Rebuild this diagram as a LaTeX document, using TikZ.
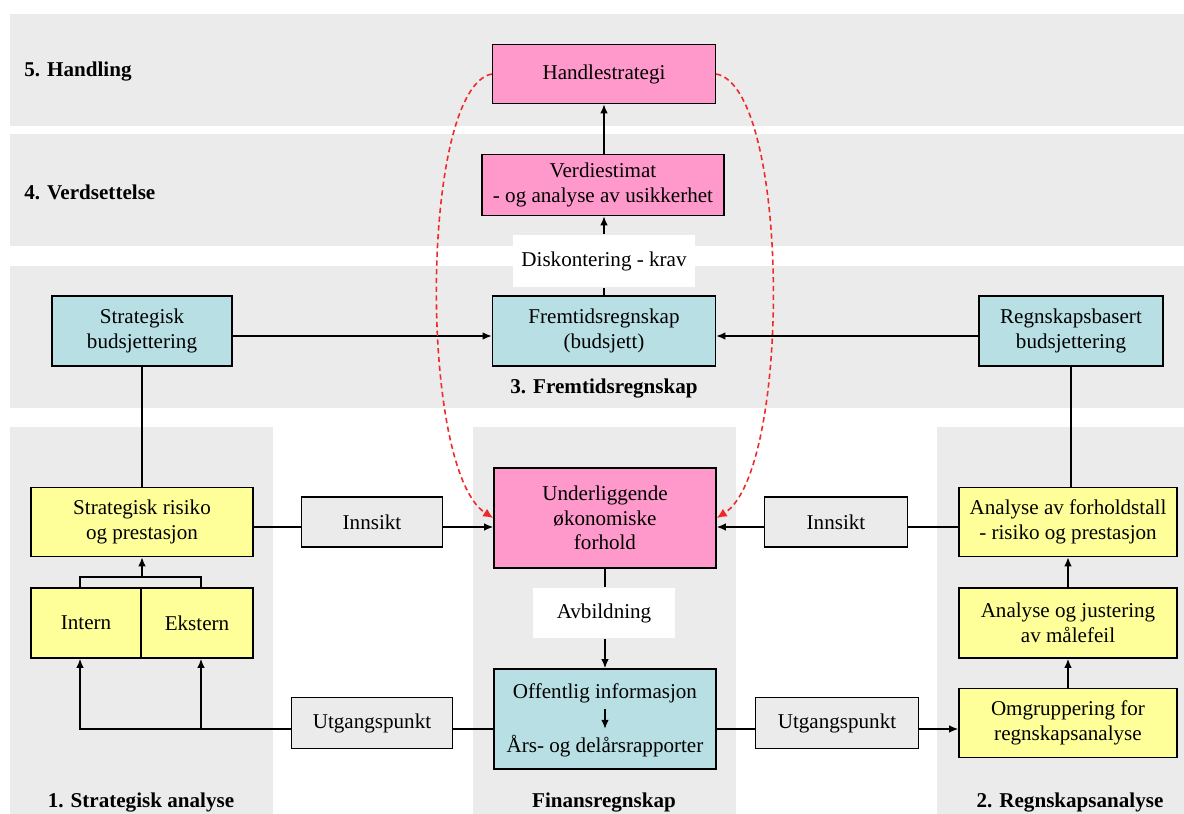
\documentclass[tikz,border=0pt]{standalone}
\usepackage{fontspec}
\setmainfont{Liberation Serif}
\usetikzlibrary{arrows.meta}
\definecolor{bandgray}{RGB}{235,235,235}
\definecolor{boxpink}{RGB}{255,153,204}
\definecolor{boxteal}{RGB}{184,224,228}
\definecolor{boxyellow}{RGB}{255,255,153}
\definecolor{dashred}{RGB}{240,40,40}

\begin{document}
\begin{tikzpicture}[x=0.02cm, y=-0.02cm,
		box/.style={draw, line width=0.9pt, align=center, inner sep=0pt, font=\fontsize{12}{14}\selectfont},
		pinkbox/.style={box, fill=boxpink},
		tealbox/.style={box, fill=boxteal},
		yellowbox/.style={box, fill=boxyellow},
		graybox/.style={box, fill=bandgray},
		whitebox/.style={box, draw=none, fill=white},
		lbl/.style={font=\fontsize{12}{14}\selectfont\bfseries, inner sep=0pt},
		conn/.style={line width=0.8pt},
		arr/.style={conn, -{Latex[length=1.8mm,width=1.5mm]}},
		redarr/.style={line width=0.9pt, draw=dashred, dash pattern=on 3pt off 2pt, -{Latex[length=2mm,width=1.8mm]}, dashred}]
			%%%%% START %%%%%
			\useasboundingbox (0,0) rectangle (1184,814);
			
			\fill[bandgray] (10,14) rectangle (1184,126);
			\fill[bandgray] (10,134) rectangle (1184,246);
			\fill[bandgray] (10,266) rectangle (1184,408);
			\fill[bandgray] (10,427) rectangle (273,814);
			\fill[bandgray] (473,427) rectangle (736,814);
			\fill[bandgray] (937,427) rectangle (1184,814);
			
			\coordinate (lvlA) at (0,336);
			\coordinate (lvlB) at (0,527);
			\coordinate (lvlC) at (0,729);
			\coordinate (brI) at (80,577);
			\coordinate (brE) at (201,577);
			
			\node[lbl, anchor=west] (lblhand) at (24,72) {5. Handling};
			\node[lbl, anchor=west] (lblverd) at (24,192) {4. Verdsettelse};
			\node[lbl] (lblfrem) at (604,389) {3. Fremtidsregnskap};
			\node[lbl] (lblstrat) at (141,803) {1. Strategisk analyse};
			\node[lbl] (lblfinans) at (604,803) {Finansregnskap};
			\node[lbl] (lblregn) at (1070,803) {2. Regnskapsanalyse};
			
			\node[pinkbox, minimum width=4.46cm, minimum height=1.18cm] (hand) at (604,74) {Handlestrategi};
			\node[pinkbox, minimum width=4.84cm, minimum height=1.22cm] (verdi) at (603,185) {Verdiestimat\\- og analyse av usikkerhet};
			\node[whitebox, minimum width=3.66cm, minimum height=1.04cm] (disk) at (604,261) {Diskontering - krav};
			
			\node[tealbox, minimum width=4.46cm, minimum height=1.4cm] (fremtid) at (604,331) {Fremtidsregnskap\\(budsjett)};
			\node[tealbox, minimum width=3.6cm, minimum height=1.4cm] (stratbud) at (142,331) {Strategisk\\budsjettering};
			\node[tealbox, minimum width=3.68cm, minimum height=1.4cm] (regnbud) at (1071,331) {Regnskapsbasert\\budsjettering};
			
			\node[yellowbox, minimum width=4.44cm, minimum height=1.38cm] (strisk) at (142,522) {Strategisk risiko\\og prestasjon};
			\node[yellowbox, minimum width=2.2cm, minimum height=1.4cm] (intern) at (86,623) {Intern};
			\node[yellowbox, minimum width=2.24cm, minimum height=1.4cm] (ekstern) at (197,623) {Ekstern};
			
			\node[graybox, minimum width=2.82cm, minimum height=1.0cm] (innA) at (372,522) {Innsikt};
			\node[graybox, minimum width=2.86cm, minimum height=1.0cm] (innB) at (836,522) {Innsikt};
			\node[graybox, minimum width=3.22cm, minimum height=1.02cm] (utgA) at (372,723) {Utgangspunkt};
			\node[graybox, minimum width=3.26cm, minimum height=1.02cm] (utgB) at (837,723) {Utgangspunkt};
			
			\node[pinkbox, minimum width=4.44cm, minimum height=2.0cm] (under) at (605,518) {Underliggende\\økonomiske\\forhold};
			\node[whitebox, minimum width=2.86cm, minimum height=1.0cm] (avbild) at (604,613) {Avbildning};
			\node[tealbox, minimum width=4.44cm, minimum height=2.0cm] (off) at (605,719) {};
			\node[font=\fontsize{12}{14}\selectfont] (offA) at (605,693) {Offentlig informasjon};
			\node[font=\fontsize{12}{14}\selectfont] (offB) at (605,746) {Års- og delårsrapporter};
			
			\node[yellowbox, minimum width=4.36cm, minimum height=1.38cm] (forhold) at (1068,522) {Analyse av forholdstall\\- risiko og prestasjon};
			\node[yellowbox, minimum width=4.36cm, minimum height=1.4cm] (juster) at (1068,623) {Analyse og justering\\av målefeil};
			\node[yellowbox, minimum width=4.36cm, minimum height=1.38cm] (omgr) at (1068,723) {Omgruppering for\\regnskapsanalyse};
			
			\draw[arr] (hand.south |- verdi.north) -- (hand.south);
			\draw[conn] (fremtid.north) -- (disk.south);
			\draw[arr] (disk.north) -- (verdi.south -| disk.north);
			\draw[arr] (stratbud.east |- lvlA) -- (fremtid.west |- lvlA);
			\draw[arr] (regnbud.west |- lvlA) -- (fremtid.east |- lvlA);
			\draw[conn] (stratbud.south) -- (strisk.north);
			\draw[conn] (regnbud.south) -- (regnbud.south |- forhold.north);
			
			\draw[conn] (intern.north -| brI) |- (brE) -- (ekstern.north -| brE);
			\draw[arr] (strisk.south |- brI) -- (strisk.south);
			\draw[conn] (strisk.east |- lvlB) -- (innA.west |- lvlB);
			\draw[arr] (innA.east |- lvlB) -- (under.west |- lvlB);
			\draw[conn] (forhold.west |- lvlB) -- (innB.east |- lvlB);
			\draw[arr] (innB.west |- lvlB) -- (under.east |- lvlB);
			
			\draw[conn] (under.south) -- (avbild.north -| under.south);
			\draw[arr] (avbild.south -| under.south) -- (off.north);
			\draw[arr] (offA) -- (offB);
			
			\draw[conn] (off.west |- lvlC) -- (utgA.east |- lvlC);
			\draw[arr] (utgA.west |- lvlC) -| (intern.south -| brI);
			\draw[arr] (brE |- lvlC) -- (ekstern.south -| brE);
			\draw[conn] (off.east |- lvlC) -- (utgB.west |- lvlC);
			\draw[arr] (utgB.east |- lvlC) -- (omgr.west |- lvlC);
			\draw[arr] (omgr.north) -- (juster.south);
			\draw[arr] (juster.north) -- (forhold.south);
			
			\draw[redarr] (hand.west) .. controls (420,88) and (418,470) .. (under.west);
			\draw[redarr] (hand.east) .. controls (790,88) and (792,470) .. (under.east);
			%%%%% END %%%%%
\end{tikzpicture}
\end{document}
